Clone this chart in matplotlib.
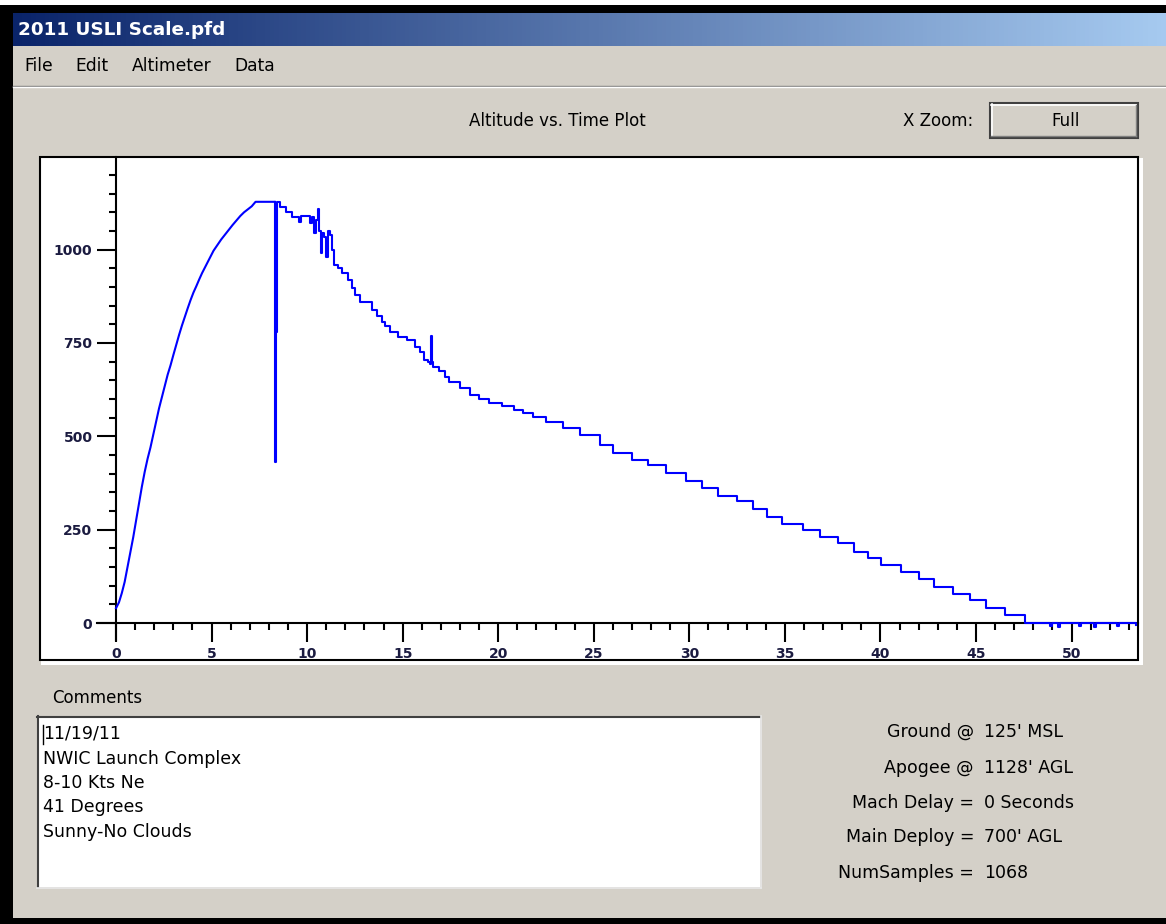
import numpy as np
import matplotlib
matplotlib.use('Agg')
import matplotlib.pyplot as plt
from matplotlib.patches import Rectangle
from matplotlib.ticker import FixedLocator

W, H = 1166, 924
UI_FONT = 'DejaVu Sans'
GRAY = '#D4D0C8'

# altimeter trace (seconds, feet AGL)
# boost/coast up to apogee: smooth enough to draw as a plain line
ascent_t = [0.0, 0.15, 0.3, 0.45, 0.6, 0.75, 0.9, 1.05, 1.2, 1.35, 1.5, 1.65, 1.8, 1.95,
            2.1, 2.25, 2.4, 2.55, 2.7, 2.85, 3.0, 3.15, 3.3, 3.45, 3.6, 3.75, 3.9, 4.05,
            4.2, 4.35, 4.5, 4.65, 4.8, 4.95, 5.1, 5.3, 5.5, 5.7, 5.9, 6.1, 6.3, 6.5, 6.7,
            6.9, 7.1, 7.3, 8.3]
ascent_alt = [40, 55, 80, 110, 150, 190, 230, 275, 320, 365, 405, 440, 470, 505,
              540, 575, 605, 635, 665, 690, 718, 745, 772, 797, 820, 843, 865, 885,
              902, 920, 937, 952, 967, 982, 997, 1012, 1027, 1040, 1053, 1066, 1078, 1090, 1100,
              1108, 1116, 1128, 1128]

# apogee onwards: stair-stepped altimeter readings
descent_t = [8.30, 8.32, 8.36, 8.40, 8.44, 8.6, 8.9, 9.2, 9.6, 9.7, 10.1, 10.15, 10.25, 10.35,
             10.45, 10.55, 10.6, 10.7, 10.8, 10.9, 11.0, 11.1, 11.2, 11.3, 11.4, 11.63,
             11.8, 12.15, 12.33, 12.5, 12.77, 13.38, 13.64, 13.9, 14.1, 14.34, 14.78, 15.21,
             15.65, 15.9, 16.09, 16.3, 16.45, 16.5, 16.55, 16.6, 16.9, 17.2, 17.4, 18.0,
             18.5, 19.0, 19.5, 20.2, 20.8, 21.3, 21.8, 22.5, 23.4, 24.3, 25.3, 26.0, 27.0,
             27.85, 28.8, 29.8, 30.65, 31.5, 32.5, 33.35, 34.05, 34.85, 35.95, 36.85, 37.8,
             38.6, 39.35, 40.05, 41.1, 42.0, 42.8, 43.8, 44.7, 45.55, 46.5, 47.55,
             48.9, 49.0, 49.3, 49.4, 50.4, 50.5, 51.2, 51.3, 52.4, 52.5, 53.4]
descent_alt = [1128, 432, 780, 790, 1128, 1115, 1100, 1088, 1075, 1090, 1090, 1070, 1088, 1045,
               1078, 1110, 1050, 990, 1045, 1035, 980, 1050, 1040, 1000, 960, 950,
               937, 919, 897, 879, 861, 838, 821, 805, 795, 780, 767, 758,
               740, 725, 705, 700, 695, 768, 700, 685, 675, 660, 645, 630,
               611, 600, 588, 580, 571, 562, 553, 539, 521, 504, 478, 455, 437,
               423, 403, 381, 361, 340, 327, 305, 285, 265, 249, 230, 214,
               191, 173, 155, 137, 118, 97, 77, 62, 41, 21, 0,
               -8, 0, -10, 0, -8, 0, -10, 0, -8, 0, -6]

x_major = list(range(0, 51, 5))
x_minor = list(range(0, 54))
y_major = [0, 250, 500, 750, 1000]
y_minor = list(range(0, 1201, 50))

menu_items = ['File', 'Edit', 'Altimeter', 'Data']
menu_x = [24, 75, 132, 234]
comment_lines = ['11/19/11', 'NWIC Launch Complex', '8-10 Kts Ne', '41 Degrees', 'Sunny-No Clouds']
info_labels = ['Ground @', 'Apogee @', 'Mach Delay =', 'Main Deploy =', 'NumSamples =']
info_values = ["125' MSL", "1128' AGL", '0 Seconds', "700' AGL", '1068']

fig = plt.figure(figsize=(W / 100, H / 100), dpi=100)
fig.patch.set_facecolor(GRAY)

# window chrome drawn in pixel coordinates
bg = fig.add_axes([0, 0, 1, 1])
bg.axis('off')

grad = np.linspace(0, 1, 256)[None, :, None]
c0 = np.array([10, 36, 106]) / 255
c1 = np.array([166, 202, 240]) / 255
bg.imshow(c0 + (c1 - c0) * grad, extent=(13, W, 46, 13), aspect='auto')

bg.add_patch(Rectangle((0, 0), W, 5, fc='white', ec='none'))
bg.add_patch(Rectangle((0, 5), W, 8, fc='black', ec='none'))
bg.add_patch(Rectangle((0, 5), 13, H, fc='black', ec='none'))
bg.add_patch(Rectangle((0, 918), W, 6, fc='black', ec='none'))

bg.text(18, 30, '2011 USLI Scale.pfd', color='white', fontweight='bold', fontsize=13.2,
        va='center', family=UI_FONT)
for name, mx in zip(menu_items, menu_x):
    bg.text(mx, 66, name, fontsize=12.3, va='center', family=UI_FONT)
bg.plot([13, W], [85.5, 85.5], color='#808080', lw=1)
bg.plot([13, W], [87, 87], color='white', lw=1)

bg.text(557, 121, 'Altitude vs. Time Plot', fontsize=12, ha='center', va='center', family=UI_FONT)
bg.text(973, 121, 'X Zoom:', fontsize=12, ha='right', va='center', family=UI_FONT)

# "Full" button
bg.add_patch(Rectangle((990, 103), 148, 35, fc=GRAY, ec='#404040', lw=1.5))
bg.plot([991, 1136], [104.5, 104.5], color='white', lw=1.2)
bg.plot([991.5, 991.5], [104, 136], color='white', lw=1.2)
bg.plot([991, 1136], [136, 136], color='#808080', lw=1)
bg.plot([1136, 1136], [105, 136], color='#808080', lw=1)
bg.text(1066, 121, 'Full', fontsize=12, ha='center', va='center', family=UI_FONT)

# plot panel
bg.add_patch(Rectangle((41, 158), 1102, 507, fc='white', ec='none'))
bg.add_patch(Rectangle((40, 157), 1098, 503, fc='white', ec='black', lw=1.5))

# comments
bg.text(52, 698, 'Comments', fontsize=12, va='center', family=UI_FONT)
bg.add_patch(Rectangle((37, 716), 723, 171, fc='white', ec='none'))
bg.plot([37, 760], [717, 717], color='#404040', lw=1.5)
bg.plot([38, 38], [716, 887], color='#404040', lw=1.5)
bg.plot([37, 761], [887.5, 887.5], color='#E8E8E8', lw=1.2)
bg.plot([760.5, 760.5], [716, 888], color='#E8E8E8', lw=1.2)
bg.plot([42.5, 42.5], [725, 744], color='black', lw=1)
for i, line in enumerate(comment_lines):
    bg.text(43, 734 + i * 24.5, line, fontsize=12.5, va='center', family=UI_FONT)

info_y = [732, 768, 803, 837, 873]
for lab, val, yy in zip(info_labels, info_values, info_y):
    bg.text(974, yy, lab, fontsize=12.5, ha='right', va='center', family=UI_FONT)
    bg.text(984, yy, val, fontsize=12.5, ha='left', va='center', family=UI_FONT)

bg.set_xlim(0, W)
bg.set_ylim(H, 0)

# altitude plot
ax = fig.add_axes([40 / W, 1 - 660 / H, 1098 / W, 503 / H])
ax.patch.set_alpha(0)
ax.plot(ascent_t, ascent_alt, color='#0000FF', lw=1.5, zorder=3)
ax.step(descent_t, descent_alt, where='post', color='#0000FF', lw=1.5, zorder=3)
ax.set_xlim(-3.98, 53.48)
ax.set_ylim(-99, 1248)

for s in ['top', 'right']:
    ax.spines[s].set_visible(False)
ax.spines['left'].set_position(('data', 0))
ax.spines['bottom'].set_position(('data', 0))
ax.spines['left'].set_bounds(-45, 1248)
ax.spines['bottom'].set_bounds(-1.0, 53.48)
for s in ['left', 'bottom']:
    ax.spines[s].set_linewidth(1.5)

ax.xaxis.set_major_locator(FixedLocator(x_major))
ax.xaxis.set_minor_locator(FixedLocator(x_minor))
ax.yaxis.set_major_locator(FixedLocator(y_major))
ax.yaxis.set_minor_locator(FixedLocator(y_minor))
ax.tick_params(which='major', direction='out', length=14, width=1.5, pad=3,
               labelsize=10, labelcolor='#1b1b40')
ax.tick_params(which='minor', direction='out', length=5, width=1.5)
for lbl in ax.get_xticklabels() + ax.get_yticklabels():
    lbl.set_fontweight('bold')

fig.savefig('out.png', dpi=100, facecolor=fig.get_facecolor())
